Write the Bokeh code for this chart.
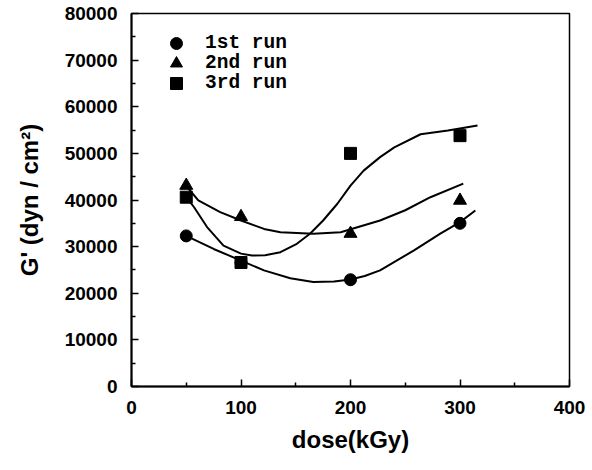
from bokeh.plotting import figure
from bokeh.models import Range1d, Legend, LegendItem, BasicTickFormatter, FixedTicker
from bokeh.embed import file_html
from bokeh.resources import INLINE

# measured points
dose = [50, 100, 200, 300]
run1 = [32300, 26600, 22900, 35000]
run2 = [43100, 36400, 32800, 39900]
run3 = [40600, 26600, 50000, 53800]
labels = ["1st run", "2nd run", "3rd run"]

# fitted curves
c1_x = [50, 75, 100, 121, 145, 166, 185, 200, 213, 227, 258, 282, 300, 314]
c1_y = [32300, 29500, 27000, 24900, 23200, 22400, 22500, 22950, 23700, 24900, 29200, 32800, 35250, 37750]
c2_x = [50, 61, 81, 100, 121, 136, 166, 191, 227, 250, 273, 303]
c2_y = [43000, 39900, 37400, 35600, 33800, 33100, 32750, 33100, 35600, 37800, 40600, 43500]
c3_x = [50, 57, 69, 84, 100, 110, 122, 136, 151, 163, 175, 188, 200, 212, 227, 240, 264, 289, 316]
c3_y = [40600, 38500, 34200, 30200, 28500, 28100, 28150, 28800, 30600, 32750, 35600, 39200,
        43100, 46300, 49200, 51300, 54100, 54900, 56000]

x_ticks = [0, 100, 200, 300, 400]
x_minor = [50, 150, 250, 350]
y_ticks = [0, 10000, 20000, 30000, 40000, 50000, 60000, 70000, 80000]
y_minor = [5000, 15000, 25000, 35000, 45000, 55000, 65000, 75000]

p = figure(width=590, height=468, output_backend="svg", toolbar_location=None,
           x_range=Range1d(0, 400), y_range=Range1d(0, 80000),
           min_border_left=131, min_border_right=21, min_border_top=13, min_border_bottom=82)
p.xgrid.visible = False
p.ygrid.visible = False
p.outline_line_color = "black"
p.outline_line_width = 1.5
p.background_fill_color = "white"
p.border_fill_color = "white"

FONT = "Liberation Sans"
for ax in (p.xaxis[0], p.yaxis[0]):
    ax.axis_line_width = 2
    ax.axis_line_color = "black"
    ax.major_tick_in = 7
    ax.major_tick_out = 0
    ax.minor_tick_in = 4
    ax.minor_tick_out = 0
    ax.major_tick_line_width = 1.5
    ax.minor_tick_line_width = 1.5
    ax.major_label_text_font = FONT
    ax.major_label_text_font_style = "bold"
    ax.major_label_text_font_size = "19px"
    ax.major_label_text_color = "black"
    ax.axis_label_text_font = FONT
    ax.axis_label_text_font_style = "bold"
    ax.axis_label_text_font_size = "24px"
    ax.axis_label_text_color = "black"
    ax.major_label_standoff = 14

p.xaxis[0].ticker = FixedTicker(ticks=x_ticks, minor_ticks=x_minor)
p.yaxis[0].ticker = FixedTicker(ticks=y_ticks, minor_ticks=y_minor)
p.yaxis[0].formatter = BasicTickFormatter(use_scientific=False)
p.xaxis[0].axis_label = "dose(kGy)"
p.yaxis[0].axis_label = "G' (dyn / cm²)"
p.xaxis[0].axis_label_standoff = 9
p.yaxis[0].axis_label_standoff = 19

for cx, cy in ((c1_x, c1_y), (c2_x, c2_y), (c3_x, c3_y)):
    p.line(cx, cy, line_color="black", line_width=2, line_join="round")

r1 = p.scatter(dose, run1, marker="circle", size=12, color="black")
r2 = p.scatter(dose, run2, marker="triangle", size=13, color="black")
r3 = p.scatter(dose, run3, marker="square", size=12, color="black")

# one legend per row so that markers keep a readable size with a tight row pitch
for i, (lab, r) in enumerate(zip(labels, [r1, r2, r3])):
    lg = Legend(items=[LegendItem(label=lab, renderers=[r])],
                location=(30, 328 - 20 * i), padding=0, margin=0, spacing=0,
                glyph_width=30, glyph_height=30, label_height=30,
                label_standoff=14, border_line_color=None,
                background_fill_alpha=0,
                label_text_font="Liberation Mono", label_text_font_style="bold",
                label_text_font_size="19.5px", label_text_color="black")
    p.add_layout(lg)

open("out.html", "w").write(file_html(p, INLINE))
